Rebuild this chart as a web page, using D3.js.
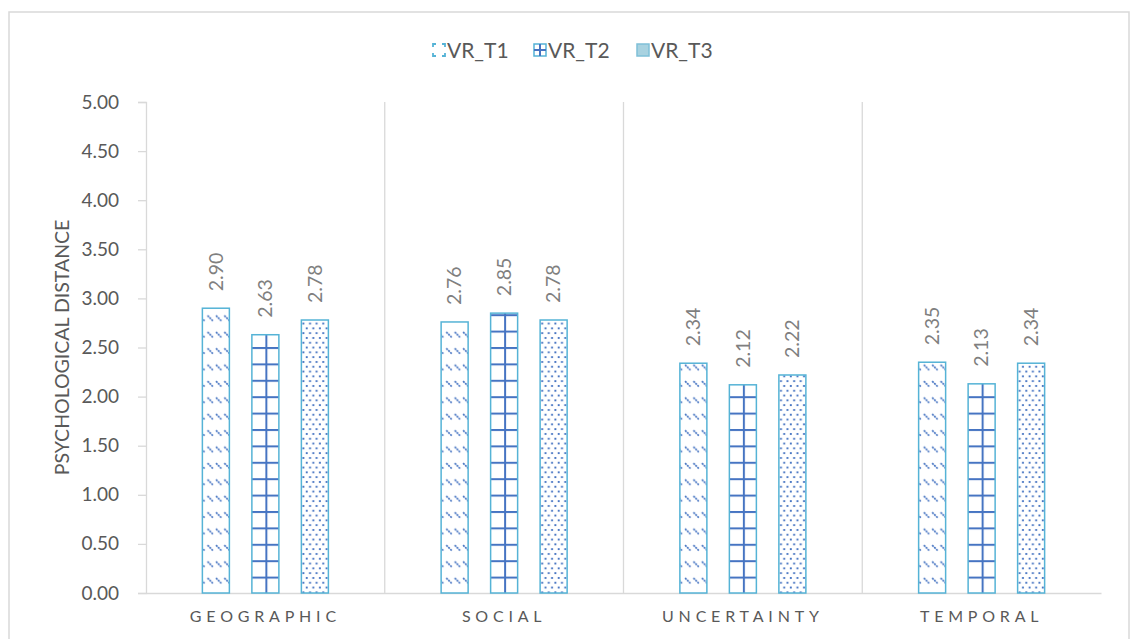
<!DOCTYPE html>
<html>
<head>
<meta charset="utf-8">
<script src="https://cdn.jsdelivr.net/npm/d3@7"></script>
<style>
  html, body { margin: 0; padding: 0; background: #fff; }
  svg { display: block; font-family: Lato, "Open Sans", sans-serif; }
</style>
</head>
<body>
<svg id="chart" width="1134" height="639"></svg>
<script>
// Mean psychological distance per dimension and VR session
const categories = ["GEOGRAPHIC", "SOCIAL", "UNCERTAINTY", "TEMPORAL"];
const seriesNames = ["VR_T1", "VR_T2", "VR_T3"];
const vrT1 = [2.90, 2.76, 2.34, 2.35];
const vrT2 = [2.63, 2.85, 2.12, 2.13];
const vrT3 = [2.78, 2.78, 2.22, 2.34];
const yTicks = [0, 0.5, 1, 1.5, 2, 2.5, 3, 3.5, 4, 4.5, 5];
const yTitle = "PSYCHOLOGICAL DISTANCE";

const seriesValues = [vrT1, vrT2, vrT3];
const rows = categories.map((c, i) => ({
  category: c,
  values: seriesNames.map((s, k) => ({ series: s, idx: k, value: seriesValues[k][i] }))
}));

const svg = d3.select("#chart");
const edgeBlue = "#55b3d6";
const patBlue = "#4674c2";
const gridGray = "#d9d9d9";

// frame around the chart
svg.append("rect")
  .attr("x", 9).attr("y", 12).attr("width", 1120).attr("height", 660)
  .attr("fill", "none").attr("stroke", gridGray).attr("stroke-width", 1.5);

// fill patterns
const defs = svg.append("defs");
const p1 = defs.append("pattern").attr("id", "pat-t1")
  .attr("patternUnits", "userSpaceOnUse").attr("width", 8.4).attr("height", 16.4);
p1.append("rect").attr("width", 8.4).attr("height", 16.4).attr("fill", "#fff");
p1.append("line").attr("x1", 1).attr("y1", 4).attr("x2", 6.5).attr("y2", 9.5)
  .attr("stroke", patBlue).attr("stroke-width", 1.7).attr("stroke-dasharray", "2,0.8");

const p2 = defs.append("pattern").attr("id", "pat-t2")
  .attr("patternUnits", "userSpaceOnUse").attr("width", 16.4).attr("height", 16.4)
  .attr("x", 0).attr("y", 593);
p2.append("rect").attr("width", 16.4).attr("height", 16.4).attr("fill", "#fff");
p2.append("rect").attr("x", 0).attr("y", 0).attr("width", 16.4).attr("height", 2).attr("fill", patBlue);
p2.append("rect").attr("x", 0).attr("y", 0).attr("width", 2).attr("height", 16.4).attr("fill", patBlue);

const p3 = defs.append("pattern").attr("id", "pat-t3")
  .attr("patternUnits", "userSpaceOnUse").attr("width", 6.6).attr("height", 9.6);
p3.append("rect").attr("width", 6.6).attr("height", 9.6).attr("fill", "#fff");
p3.append("rect").attr("x", 0.8).attr("y", 1).attr("width", 1.9).attr("height", 1.9).attr("fill", patBlue);
p3.append("rect").attr("x", 4.1).attr("y", 5.8).attr("width", 1.9).attr("height", 1.9).attr("fill", patBlue);

const fills = ["url(#pat-t1)", "url(#pat-t2)", "url(#pat-t3)"];

// scales
const plot = { left: 146, right: 1101, top: 102, bottom: 593 };
const y = d3.scaleLinear().domain([0, 5]).range([plot.bottom, plot.top]);
const x0 = d3.scaleBand().domain(categories).range([plot.left, plot.right]).padding(0);
const groupHalf = 63;
const x1 = d3.scaleBand().domain(seriesNames)
  .range([-groupHalf, groupHalf]).paddingInner(0.4545).paddingOuter(0);

// category separators
svg.append("g").selectAll("line")
  .data(categories.slice(1))
  .join("line")
  .attr("x1", d => x0(d)).attr("x2", d => x0(d))
  .attr("y1", plot.top).attr("y2", plot.bottom)
  .attr("stroke", gridGray).attr("stroke-width", 1.3);

// y axis
const yAxis = svg.append("g")
  .attr("transform", `translate(${plot.left},0)`)
  .call(d3.axisLeft(y).tickValues(yTicks).tickFormat(d3.format(".2f")).tickSize(8).tickPadding(19));
yAxis.select(".domain").attr("stroke", gridGray).attr("stroke-width", 1.3);
yAxis.selectAll(".tick line").attr("stroke", gridGray).attr("stroke-width", 1.3);
yAxis.selectAll(".tick text")
  .attr("fill", "#595959").attr("font-size", 19).attr("font-family", "Lato, sans-serif");

// x axis baseline and category labels
const xAxis = svg.append("g")
  .attr("transform", `translate(0,${plot.bottom})`)
  .call(d3.axisBottom(x0).tickSize(0).tickPadding(18));
xAxis.select(".domain").attr("stroke", gridGray).attr("stroke-width", 1.5);
xAxis.selectAll(".tick text")
  .attr("fill", "#595959").attr("font-size", 16).attr("letter-spacing", "4.8px")
  .attr("font-family", "Lato, sans-serif");

// axis title
svg.append("text")
  .attr("transform", `translate(62,${(plot.top + plot.bottom) / 2}) rotate(-90)`)
  .attr("text-anchor", "middle").attr("dy", "0.35em")
  .attr("fill", "#595959").attr("font-size", 19.5)
  .text(yTitle);

// bars
const groups = svg.append("g").selectAll("g")
  .data(rows).join("g")
  .attr("transform", d => `translate(${x0(d.category) + x0.bandwidth() / 2},0)`);

groups.selectAll("rect")
  .data(d => d.values).join("rect")
  .attr("x", d => x1(d.series))
  .attr("y", d => y(d.value))
  .attr("width", x1.bandwidth())
  .attr("height", d => y(0) - y(d.value))
  .attr("fill", d => fills[d.idx])
  .attr("stroke", edgeBlue).attr("stroke-width", 1.5);

// value labels, rotated above each bar
groups.selectAll("text.val")
  .data(d => d.values).join("text")
  .attr("class", "val")
  .attr("transform", d => `translate(${x1(d.series) + x1.bandwidth() / 2},${y(d.value) - 17}) rotate(-90)`)
  .attr("dy", "0.35em")
  .attr("fill", "#7f7f7f").attr("font-size", 19.5)
  .text(d => d.value.toFixed(2));

// legend
const legendX = [432, 533, 636];
const legend = svg.append("g").attr("transform", "translate(0,50)");
const items = legend.selectAll("g").data(seriesNames).join("g")
  .attr("transform", (d, i) => `translate(${legendX[i]},0)`);
items.append("text")
  .attr("x", 15).attr("dy", "0.36em")
  .attr("fill", "#595959").attr("font-size", 21)
  .text(d => d);

// VR_T1 marker: square with broken sides
items.filter((d, i) => i === 0).append("rect")
  .attr("x", 1).attr("y", -6).attr("width", 12).attr("height", 12)
  .attr("fill", "#fff").attr("stroke", edgeBlue).attr("stroke-width", 1.8)
  .attr("stroke-dasharray", "3,6,6,6,6,6,6,6,3");
// VR_T2 marker: square with a cross
const m2 = items.filter((d, i) => i === 1);
m2.append("rect")
  .attr("x", 1).attr("y", -6).attr("width", 12).attr("height", 12)
  .attr("fill", "#fff").attr("stroke", edgeBlue).attr("stroke-width", 1.5);
m2.append("line").attr("x1", 7).attr("x2", 7).attr("y1", -6).attr("y2", 6)
  .attr("stroke", patBlue).attr("stroke-width", 2);
m2.append("line").attr("x1", 1).attr("x2", 13).attr("y1", 0).attr("y2", 0)
  .attr("stroke", patBlue).attr("stroke-width", 2);
// VR_T3 marker: solid light square
items.filter((d, i) => i === 2).append("rect")
  .attr("x", 1).attr("y", -6).attr("width", 12).attr("height", 12)
  .attr("fill", "#a8d2e0").attr("stroke", "#7fc0d8").attr("stroke-width", 1.5);
</script>
</body>
</html>
